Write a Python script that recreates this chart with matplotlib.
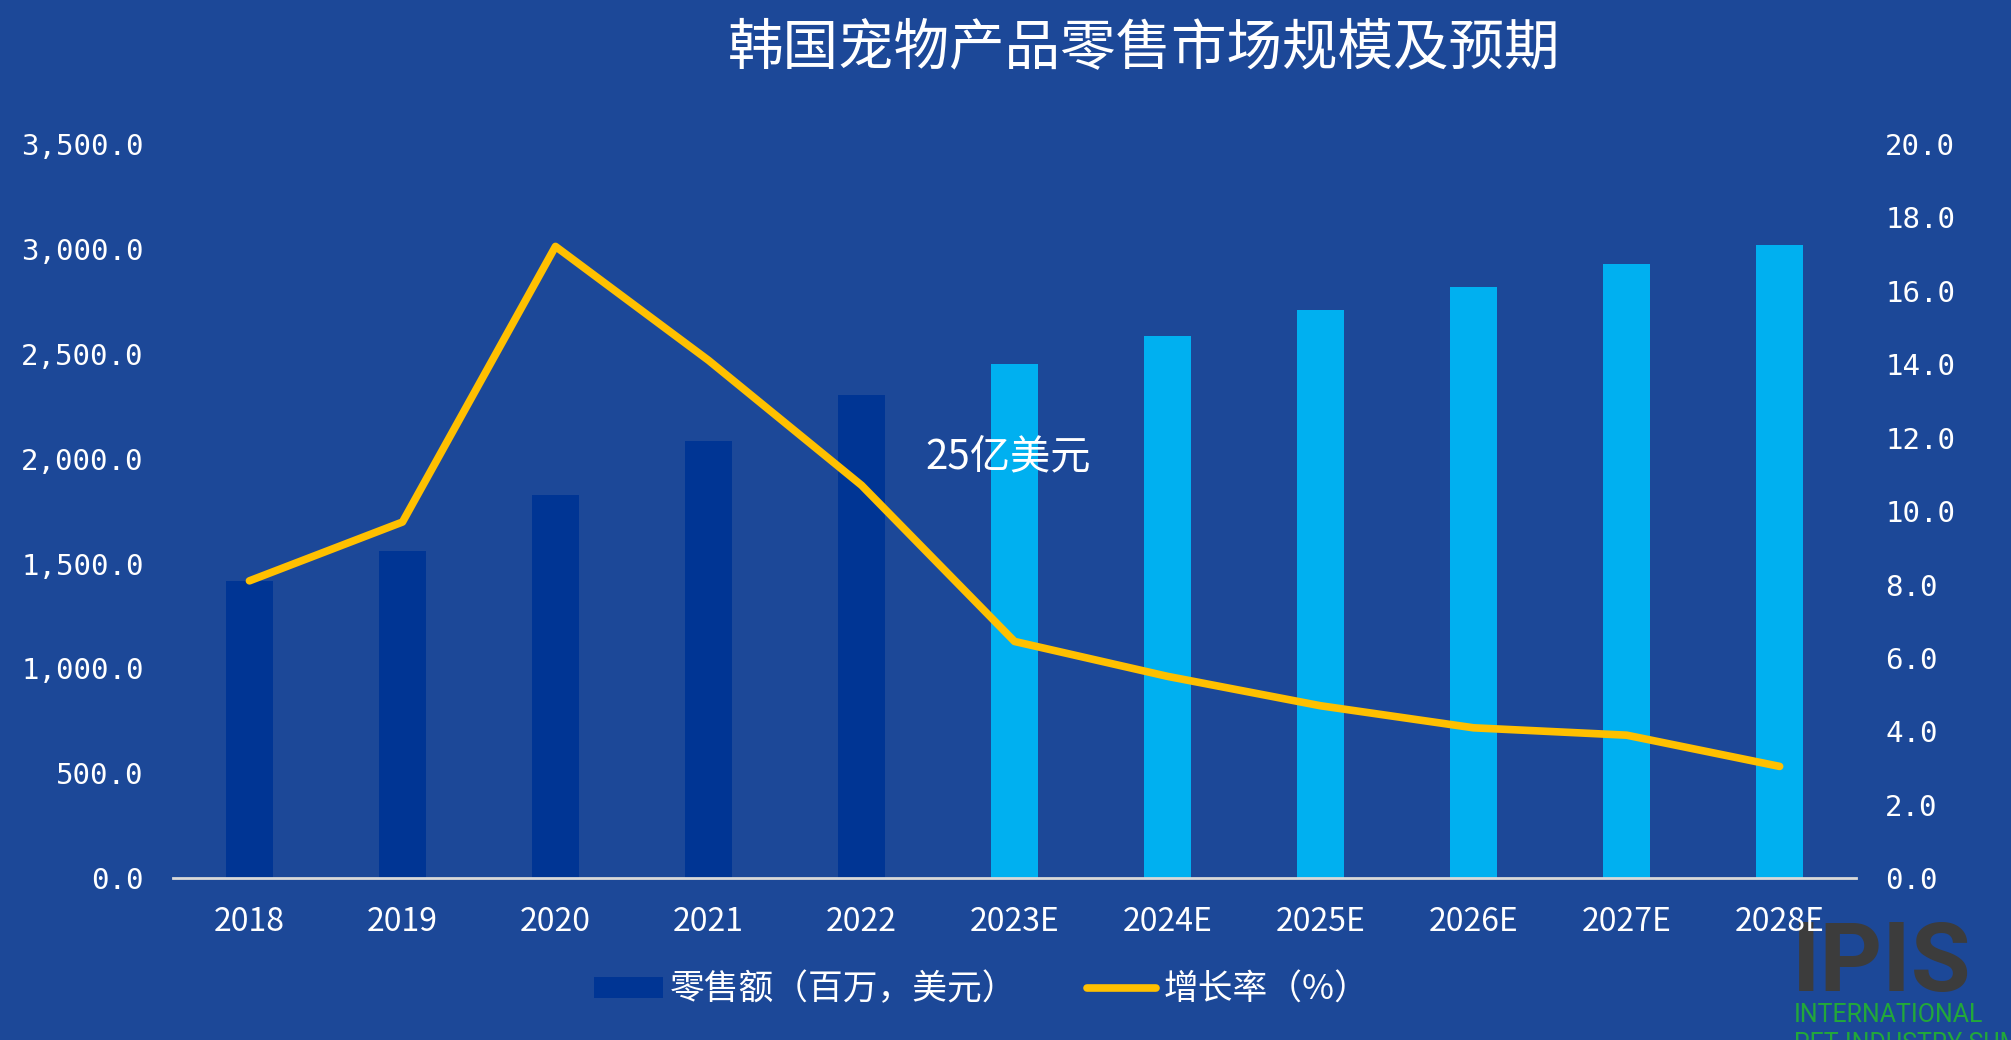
import matplotlib
matplotlib.use("Agg")
import matplotlib.pyplot as plt
from matplotlib.ticker import FuncFormatter
from matplotlib.lines import Line2D
from matplotlib.patches import Patch

plt.rcParams['font.family'] = ['Noto Sans CJK SC', 'DejaVu Sans']

# data
years = ['2018', '2019', '2020', '2021', '2022',
         '2023E', '2024E', '2025E', '2026E', '2027E', '2028E']
retail = [1418, 1558, 1828, 2083, 2303, 2450, 2584, 2706, 2816, 2926, 3018]
growth = [8.1, 9.7, 17.2, 14.1, 10.7, 6.45, 5.5, 4.7, 4.1, 3.9, 3.05]
n_actual = 5  # first 5 years are actual, rest are estimates

bg = '#1C4898'
dark_bar = '#003594'
light_bar = '#00B0F0'
line_col = '#FFC000'

fig = plt.figure(figsize=(20.11, 10.40), dpi=100, facecolor=bg)
ax = fig.add_axes([0.086, 0.1553, 0.837, 0.7067])
ax.set_facecolor(bg)

x = list(range(len(years)))
colors = [dark_bar if i < n_actual else light_bar for i in x]
ax.bar(x, retail, width=0.31, color=colors, zorder=2)

ax.set_xlim(-0.5, len(years) - 0.5)
ax.set_ylim(0, 3500)
ax.set_yticks(range(0, 3501, 500))
ax.yaxis.set_major_formatter(FuncFormatter(lambda v, p: f'{v:,.1f}'))
ax.set_xticks(x)
ax.set_xticklabels(years)

for s in ['top', 'left', 'right']:
    ax.spines[s].set_visible(False)
ax.spines['bottom'].set_color('#D9D9D9')
ax.spines['bottom'].set_linewidth(2)
ax.tick_params(axis='both', length=0, colors='white')
ax.tick_params(axis='x', labelsize=23, pad=20)
ax.tick_params(axis='y', pad=21)
for lb in ax.get_yticklabels():
    lb.set_family('DejaVu Sans Mono')
    lb.set_fontsize(21)

ax2 = ax.twinx()
ax2.plot(x, growth, color=line_col, lw=5.5, solid_capstyle='round', zorder=3)
ax2.set_ylim(0, 20)
ax2.set_yticks(range(0, 21, 2))
ax2.yaxis.set_major_formatter(FuncFormatter(lambda v, p: f'{v:.1f}'))
for s in ['top', 'left', 'right', 'bottom']:
    ax2.spines[s].set_visible(False)
ax2.tick_params(axis='y', length=0, colors='white', pad=21)
for lb in ax2.get_yticklabels():
    lb.set_family('DejaVu Sans Mono')
    lb.set_fontsize(21)

# title + annotation
fig.text(0.569, 0.953, '韩国宠物产品零售市场规模及预期', color='white',
         fontsize=40, ha='center', va='center')
ax.text(4.96, 2010, '25亿美元', color='white', fontsize=29, ha='center', va='center')

handles = [Patch(facecolor=dark_bar, edgecolor='none'),
           Line2D([0], [0], color=line_col, lw=5.5, solid_capstyle='round')]
leg = fig.legend(handles, ['零售额（百万，美元）', '增长率（%）'], loc='center',
                 bbox_to_anchor=(0.488, 0.048), ncol=2, frameon=False,
                 fontsize=25, handlelength=2.0, handleheight=0.55,
                 handletextpad=0.2, columnspacing=2.0, labelcolor='white')

# logo in the bottom right corner (behind the tick labels)
fig.text(0.891, 0.072, 'IPIS', color='#3C3C3C', fontsize=70, fontweight='bold',
         family='Roboto', ha='left', va='center', zorder=-1)
fig.text(0.892, 0.024, 'INTERNATIONAL', color='#22A83A', fontsize=18,
         family='Roboto', ha='left', va='center', zorder=-1)
fig.text(0.892, -0.004, 'PET INDUSTRY SUMMIT', color='#22A83A', fontsize=18,
         family='Roboto', ha='left', va='center', zorder=-1)

fig.savefig('out.png', dpi=100, facecolor=bg)
